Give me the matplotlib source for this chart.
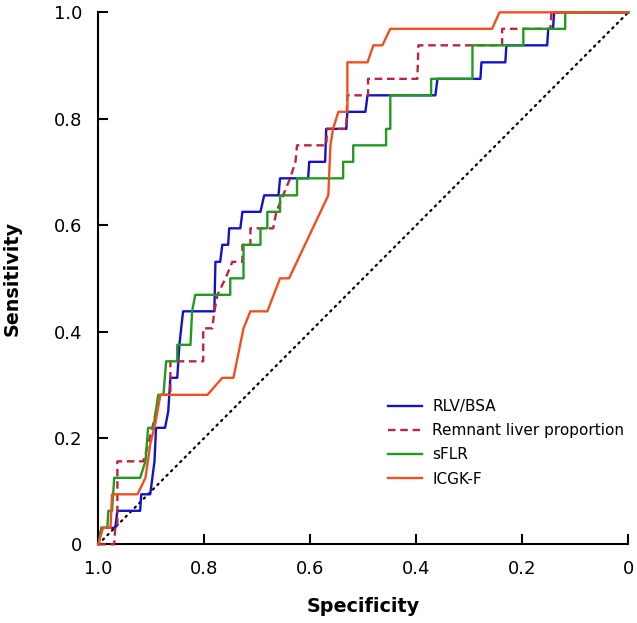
import matplotlib
matplotlib.use("Agg")
import matplotlib.pyplot as plt

# ---- data ----
labels = ["RLV/BSA", "Remnant liver proportion", "sFLR", "ICGK-F"]

rlv_spec = [1.0, 0.994, 0.968, 0.964, 0.921, 0.919, 0.902, 0.898, 0.894, 0.891,
            0.874, 0.868, 0.864, 0.851, 0.847, 0.840, 0.781, 0.779, 0.770, 0.766,
            0.755, 0.753, 0.732, 0.728, 0.694, 0.687, 0.660, 0.657, 0.604, 0.602,
            0.572, 0.570, 0.532, 0.530, 0.496, 0.492, 0.364, 0.360, 0.279, 0.277,
            0.232, 0.230, 0.153, 0.151, 0.142, 0.140, 0.0]
rlv_sens = [0.0, 0.031, 0.031, 0.063, 0.063, 0.094, 0.094, 0.125, 0.156, 0.219,
            0.219, 0.25, 0.313, 0.313, 0.375, 0.438, 0.438, 0.531, 0.531, 0.563,
            0.563, 0.594, 0.594, 0.625, 0.625, 0.656, 0.656, 0.688, 0.688, 0.719,
            0.719, 0.781, 0.781, 0.813, 0.813, 0.844, 0.844, 0.875, 0.875, 0.906,
            0.906, 0.938, 0.938, 0.969, 0.969, 1.0, 1.0]

rem_spec = [1.0, 0.970, 0.968, 0.964, 0.964, 0.915, 0.906, 0.898, 0.891, 0.883,
            0.864, 0.864, 0.802, 0.802, 0.785, 0.781, 0.775, 0.760, 0.747, 0.728,
            0.728, 0.713, 0.713, 0.670, 0.664, 0.638, 0.628, 0.625, 0.570, 0.568,
            0.532, 0.530, 0.491, 0.491, 0.398, 0.396, 0.238, 0.238, 0.147, 0.145, 0.0]
rem_sens = [0.0, 0.0, 0.031, 0.031, 0.156, 0.156, 0.188, 0.219, 0.25, 0.281,
            0.281, 0.344, 0.344, 0.406, 0.406, 0.438, 0.469, 0.5, 0.531, 0.531,
            0.563, 0.563, 0.594, 0.594, 0.625, 0.688, 0.719, 0.75, 0.75, 0.781,
            0.781, 0.844, 0.844, 0.875, 0.875, 0.938, 0.938, 0.969, 0.969, 1.0, 1.0]

sflr_spec = [1.0, 0.994, 0.983, 0.981, 0.974, 0.972, 0.970, 0.921, 0.911, 0.906,
             0.896, 0.887, 0.877, 0.872, 0.851, 0.851, 0.826, 0.823, 0.817, 0.751,
             0.751, 0.726, 0.726, 0.694, 0.694, 0.681, 0.681, 0.657, 0.657, 0.625,
             0.625, 0.538, 0.538, 0.519, 0.519, 0.457, 0.457, 0.449, 0.449, 0.372,
             0.372, 0.294, 0.294, 0.198, 0.198, 0.119, 0.119, 0.0]
sflr_sens = [0.0, 0.031, 0.031, 0.063, 0.063, 0.094, 0.125, 0.125, 0.156, 0.219,
             0.219, 0.281, 0.281, 0.344, 0.344, 0.375, 0.375, 0.438, 0.469, 0.469,
             0.5, 0.5, 0.563, 0.563, 0.594, 0.594, 0.625, 0.625, 0.656, 0.656,
             0.688, 0.688, 0.719, 0.719, 0.75, 0.75, 0.781, 0.781, 0.844, 0.844,
             0.875, 0.875, 0.938, 0.938, 0.969, 0.969, 1.0, 1.0]

icg_spec = [1.0, 0.991, 0.977, 0.974, 0.926, 0.911, 0.902, 0.892, 0.883, 0.794,
            0.766, 0.745, 0.726, 0.713, 0.681, 0.657, 0.640, 0.566, 0.562, 0.557,
            0.547, 0.530, 0.530, 0.492, 0.481, 0.464, 0.449, 0.257, 0.243, 0.0]
icg_sens = [0.0, 0.031, 0.031, 0.094, 0.094, 0.125, 0.188, 0.229, 0.281, 0.281,
            0.313, 0.313, 0.406, 0.438, 0.438, 0.5, 0.5, 0.656, 0.75, 0.781,
            0.813, 0.813, 0.906, 0.906, 0.938, 0.938, 0.969, 0.969, 1.0, 1.0]

ref_spec = [1.0, 0.0]
ref_sens = [0.0, 1.0]

tick_vals = [1.0, 0.8, 0.6, 0.4, 0.2, 0.0]
tick_labels = ["1.0", "0.8", "0.6", "0.4", "0.2", "0"]

# ---- figure ----
plt.rcParams["font.family"] = ["DejaVu Sans"]
fig = plt.figure(figsize=(6.37, 6.23), dpi=100)
ax = fig.add_axes([0.1543, 0.1263, 0.8320, 0.8539])

lw = 1.7
ax.plot(ref_spec, ref_sens, color="black", lw=1.6, linestyle=(0, (0.7, 2.2)),
        dash_capstyle="round", clip_on=False, zorder=1)
ax.plot(rlv_spec, rlv_sens, color="#1212c8", lw=lw, label=labels[0], clip_on=False, zorder=2)
ax.plot(rem_spec, rem_sens, color="#c0233c", lw=lw, linestyle=(0, (3.2, 2.0)),
        label=labels[1], clip_on=False, zorder=3)
ax.plot(sflr_spec, sflr_sens, color="#229a22", lw=lw, label=labels[2], clip_on=False, zorder=4)
ax.plot(icg_spec, icg_sens, color="#f0501e", lw=lw, label=labels[3], clip_on=False, zorder=5)

ax.set_xlim(1.0, 0.0)
ax.set_ylim(0.0, 1.0)
ax.set_xticks(tick_vals)
ax.set_xticklabels(tick_labels)
ax.set_yticks(tick_vals)
ax.set_yticklabels(tick_labels)

for s in ("top", "right"):
    ax.spines[s].set_visible(False)
for s in ("left", "bottom"):
    ax.spines[s].set_linewidth(1.5)

ax.tick_params(axis="both", direction="in", length=7.2, width=1.5, labelsize=13)
ax.tick_params(axis="y", pad=11.5)
ax.tick_params(axis="x", pad=11)

ax.set_xlabel("Specificity", fontsize=13.8, fontweight="bold", labelpad=14)
ax.set_ylabel("Sensitivity", fontsize=13.8, fontweight="bold", labelpad=23)

ax.legend(loc="upper left", bbox_to_anchor=(0.5466, 0.273), frameon=False,
          fontsize=11, handlelength=2.2, handletextpad=0.7, labelspacing=0.6,
          borderpad=0, borderaxespad=0)

fig.savefig("out.png", dpi=100)
